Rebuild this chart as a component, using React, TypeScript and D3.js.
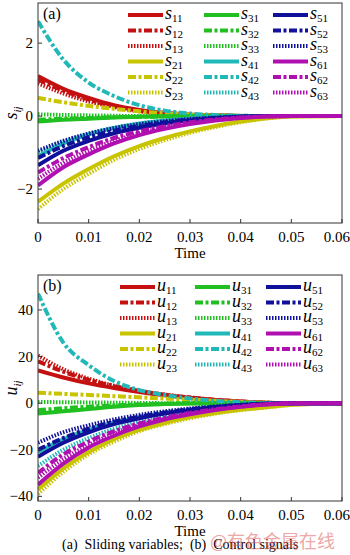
import * as d3 from "d3";

// time samples
const T = [0, 0.005, 0.01, 0.015, 0.02, 0.025, 0.03, 0.035, 0.04, 0.045, 0.05, 0.06];

// (a) sliding variables
const s11 = [1.1, 0.75, 0.5, 0.3, 0.17, 0.09, 0.04, 0.02, 0.005, 0, 0, 0];
const s12 = [1.0, 0.7, 0.45, 0.28, 0.15, 0.08, 0.04, 0.02, 0.005, 0, 0, 0];
const s13 = [0.9, 0.62, 0.4, 0.25, 0.13, 0.07, 0.03, 0.01, 0, 0, 0, 0];
const s21 = [-2.35, -1.85, -1.45, -1.1, -0.82, -0.6, -0.42, -0.27, -0.15, -0.06, -0.01, 0];
const s22 = [0.5, 0.38, 0.28, 0.2, 0.13, 0.08, 0.04, 0.02, 0.01, 0, 0, 0];
const s23 = [-2.55, -2.0, -1.58, -1.2, -0.9, -0.66, -0.46, -0.3, -0.17, -0.07, -0.01, 0];
const s31 = [-0.15, -0.1, -0.07, -0.04, -0.02, -0.01, 0, 0, 0, 0, 0, 0];
const s32 = [-0.1, -0.07, -0.05, -0.03, -0.02, -0.01, 0, 0, 0, 0, 0, 0];
const s33 = [0.05, 0.03, 0.02, 0.01, 0, 0, 0, 0, 0, 0, 0, 0];
const s41 = [-1.1, -0.75, -0.5, -0.33, -0.21, -0.13, -0.07, -0.03, -0.01, 0, 0, 0];
const s42 = [2.6, 1.55, 0.92, 0.55, 0.3, 0.15, 0.07, 0.03, 0.01, 0, 0, 0];
const s43 = [-1.0, -0.7, -0.48, -0.32, -0.2, -0.12, -0.06, -0.03, -0.01, 0, 0, 0];
const s51 = [-1.35, -0.95, -0.68, -0.47, -0.32, -0.2, -0.12, -0.06, -0.02, 0, 0, 0];
const s52 = [-1.15, -0.82, -0.58, -0.4, -0.27, -0.17, -0.1, -0.05, -0.02, 0, 0, 0];
const s53 = [-0.95, -0.68, -0.48, -0.33, -0.22, -0.14, -0.08, -0.04, -0.01, 0, 0, 0];
const s61 = [-1.9, -1.4, -1.05, -0.75, -0.52, -0.35, -0.22, -0.12, -0.05, -0.01, 0, 0];
const s62 = [-1.55, -1.15, -0.85, -0.6, -0.42, -0.28, -0.17, -0.09, -0.04, -0.01, 0, 0];
const s63 = [-1.72, -1.28, -0.95, -0.68, -0.47, -0.31, -0.19, -0.1, -0.04, -0.01, 0, 0];

// (b) control signals
const u11 = [14, 11, 8.5, 6.5, 4.8, 3.4, 2.3, 1.4, 0.7, 0.2, 0, 0];
const u12 = [18, 13.5, 10, 7.3, 5.2, 3.6, 2.4, 1.4, 0.7, 0.2, 0, 0];
const u13 = [20.5, 14.5, 10.5, 7.5, 5.3, 3.7, 2.4, 1.4, 0.7, 0.2, 0, 0];
const u21 = [-37, -28, -21, -15.5, -11.5, -8.5, -6, -4.2, -2.8, -1.8, -0.7, 0];
const u22 = [4.5, 4, 3.5, 3, 2.5, 2, 1.5, 1, 0.5, 0.2, 0, 0];
const u23 = [-39, -29.5, -22, -16.5, -12, -9, -6.5, -4.5, -3, -1.9, -0.8, 0];
const u31 = [-4.5, -3.5, -2.5, -1.5, -0.8, -0.4, -0.1, 0, 0, 0, 0, 0];
const u32 = [-3, -2.2, -1.5, -1, -0.5, -0.2, 0, 0, 0, 0, 0, 0];
const u33 = [0.5, 0.4, 0.3, 0.2, 0.1, 0, 0, 0, 0, 0, 0, 0];
const u41 = [-21, -15.5, -11.5, -8.3, -6, -4.2, -2.8, -1.7, -0.9, -0.3, 0, 0];
const u42 = [47, 26, 16.3, 9.5, 5.6, 3.5, 2.0, 1.0, 0.4, 0.1, 0, 0];
const u43 = [-27, -20, -15, -11, -8, -5.6, -3.8, -2.4, -1.3, -0.5, 0, 0];
const u51 = [-23, -17, -12.5, -9, -6.5, -4.5, -3, -1.8, -0.9, -0.3, 0, 0];
const u52 = [-20, -15, -11, -8, -5.8, -4, -2.6, -1.6, -0.8, -0.3, 0, 0];
const u53 = [-17, -12.5, -9.5, -7, -5, -3.5, -2.3, -1.4, -0.7, -0.2, 0, 0];
const u61 = [-35, -26, -19, -14, -10, -7, -4.8, -3, -1.6, -0.6, -0.1, 0];
const u62 = [-30, -22, -16.5, -12, -8.7, -6.2, -4.2, -2.6, -1.4, -0.5, 0, 0];
const u63 = [-32, -24, -18, -13, -9.4, -6.6, -4.5, -2.8, -1.5, -0.5, 0, 0];

const sSeries = [s11, s12, s13, s21, s22, s23, s31, s32, s33, s41, s42, s43, s51, s52, s53, s61, s62, s63];
const uSeries = [u11, u12, u13, u21, u22, u23, u31, u32, u33, u41, u42, u43, u51, u52, u53, u61, u62, u63];
const seriesIds = ["11", "12", "13", "21", "22", "23", "31", "32", "33", "41", "42", "43", "51", "52", "53", "61", "62", "63"];

const colors = ["#c41010", "#c8c400", "#20c020", "#20b8b8", "#10109a", "#b010b0"];
const dashes = [null, "8,2.5,3,2.5", "1.5,1.5"];

const xTicks = [0, 0.01, 0.02, 0.03, 0.04, 0.05, 0.06];
const sTicks = [-2, 0, 2];
const uTicks = [-40, -20, 0, 20, 40];

const serif = "Liberation Serif";

const fmtY = (v: number) => (v < 0 ? "\u2212" + Math.abs(v) : String(v));
const fmtX = (v: number) => (v === 0 ? "0" : String(+v.toFixed(2)));

function Panel({ top, bottom, yDomain, yTicks, series, sym, tag, legendX, legendY }: any) {
  const left = 38;
  const right = 342;
  const x = d3.scaleLinear().domain([0, 0.06]).range([left, right]);
  const y = d3.scaleLinear().domain(yDomain).range([bottom, top]);
  const line = d3
    .line<number>()
    .x((_, i) => x(T[i]))
    .y((d) => y(d))
    .curve(d3.curveMonotoneX);

  return (
    <g fontFamily={serif}>
      <defs>
        <clipPath id={"clip" + tag}>
          <rect x={left} y={top} width={right - left} height={bottom - top} />
        </clipPath>
      </defs>
      <g clipPath={`url(#clip${tag})`}>
        {series.map((vals: number[], i: number) => (
          <path
            key={i}
            d={line(vals) || ""}
            fill="none"
            stroke={colors[Math.floor(i / 3)]}
            strokeWidth={4}
            strokeDasharray={dashes[i % 3] || undefined}
          />
        ))}
      </g>
      <rect x={left} y={top} width={right - left} height={bottom - top} fill="none" stroke="#333" strokeWidth={1} />
      {xTicks.map((t, k) => (
        <g key={t}>
          <line x1={x(t)} x2={x(t)} y1={bottom} y2={bottom - 4} stroke="#333" />
          <text
            x={k === xTicks.length - 1 ? 350 : x(t)}
            y={bottom + 19}
            textAnchor={k === xTicks.length - 1 ? "end" : "middle"}
            fontSize={15}
          >
            {fmtX(t)}
          </text>
        </g>
      ))}
      {yTicks.map((t: number) => (
        <g key={t}>
          <line x1={left} x2={left + 4} y1={y(t)} y2={y(t)} stroke="#333" />
          <text x={left - 5} y={y(t) + 5} textAnchor="end" fontSize={15}>
            {fmtY(t)}
          </text>
        </g>
      ))}
      <text x={190} y={bottom + 35} textAnchor="middle" fontSize={15}>
        Time
      </text>
      <text transform={`translate(17,${(top + bottom) / 2}) rotate(-90)`} textAnchor="middle" fontSize={18}>
        <tspan fontStyle="italic">{sym}</tspan>
        <tspan fontStyle="italic" fontSize={11} dy={4}>
          ij
        </tspan>
      </text>
      <text x={43} y={top + 16} fontSize={16}>
        ({tag})
      </text>
      {seriesIds.map((id, i) => {
        const col = Math.floor(i / 6);
        const row = i % 6;
        const lx = legendX[col];
        const ly = legendY + row * 15.5;
        return (
          <g key={id}>
            <line
              x1={lx}
              x2={lx + 35}
              y1={ly}
              y2={ly}
              stroke={colors[Math.floor(i / 3)]}
              strokeWidth={4}
              strokeDasharray={dashes[i % 3] || undefined}
            />
            <text x={lx + 37} y={ly + 4} fontSize={18}>
              <tspan fontStyle="italic">{sym}</tspan>
              <tspan fontSize={11} dy={3}>
                {id}
              </tspan>
            </text>
          </g>
        );
      })}
    </g>
  );
}

export default function App() {
  return (
    <svg width={350} height={555} style={{ position: "absolute", left: 0, top: 0, background: "#fff" }}>
      <rect width={350} height={555} fill="#fff" />
      <Panel
        top={3}
        bottom={223}
        yDomain={[-2.93, 3.1]}
        yTicks={sTicks}
        series={sSeries}
        sym="s"
        tag="a"
        legendX={[128, 204, 273]}
        legendY={15}
      />
      <Panel
        top={275}
        bottom={501}
        yDomain={[-42, 55]}
        yTicks={uTicks}
        series={uSeries}
        sym="u"
        tag="b"
        legendX={[120, 195, 266]}
        legendY={287}
      />
      <text x={62} y={549} fontSize={14} fontFamily={serif} xmlSpace="preserve">
        (a)  Sliding variables;  (b)  Control signals
      </text>
      <text x={210} y={548} fontSize={18} fontFamily="Noto Sans CJK SC" fill="#e06060" opacity={0.55}>
        @有色金属在线
      </text>
    </svg>
  );
}
